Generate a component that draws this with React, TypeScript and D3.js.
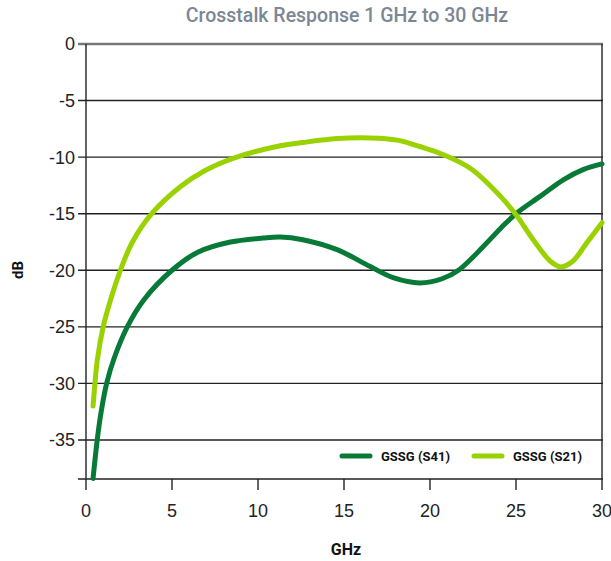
import React from 'react';
import * as d3 from 'd3';

// S21 (light green) and S41 (dark green)
const freqS21 = [0.41, 0.52, 0.66, 1.0, 1.43, 2.0, 2.7, 3.82, 5.5, 6.9, 8.76, 11.3, 12.6, 14.6, 16.5, 18.1, 19.4, 20.8, 22.4, 24.1, 25.0, 26.0, 27.0, 27.6, 28.3, 29.1, 30.0];
const dbS21 = [-32.0, -30.0, -27.9, -25.0, -22.6, -20.0, -17.5, -15.0, -12.6, -11.2, -10.0, -9.0, -8.71, -8.36, -8.3, -8.5, -9.06, -9.8, -11.05, -13.47, -15.1, -17.3, -19.2, -19.7, -19.2, -17.6, -15.8];

const freqS41 = [0.41, 0.66, 0.85, 1.2, 1.63, 2.4, 3.37, 5.0, 6.5, 8.4, 10.3, 11.3, 12.6, 14.6, 16.5, 17.9, 19.4, 20.7, 21.7, 23.1, 24.1, 25.0, 26.4, 27.75, 28.9, 30.0];
const dbS41 = [-38.4, -34.9, -32.8, -30.0, -27.8, -25.0, -22.6, -20.0, -18.4, -17.5, -17.15, -17.06, -17.3, -18.18, -19.65, -20.68, -21.12, -20.75, -19.95, -17.9, -16.3, -15.0, -13.47, -12.0, -11.1, -10.6];

const xTicks = [0, 5, 10, 15, 20, 25, 30];
const yTicks = [0, -5, -10, -15, -20, -25, -30, -35];

const seriesNames = ['GSSG (S41)', 'GSSG (S21)'];
const seriesColors = ['#087a37', '#9ad200'];

const W = 611;
const H = 561;
const left = 86;
const right = 602;
const top = 44;
const bottom = 479;

export default function App() {
  const x = d3.scaleLinear().domain([0, 30]).range([left, right]);
  const y = d3.scaleLinear().domain([0, -38.45]).range([top, bottom]);

  const line = d3
    .line<[number, number]>()
    .x((d) => x(d[0]))
    .y((d) => y(d[1]))
    .curve(d3.curveCatmullRom.alpha(0.5));

  const s41 = freqS41.map((f, i) => [f, dbS41[i]] as [number, number]);
  const s21 = freqS21.map((f, i) => [f, dbS21[i]] as [number, number]);

  const labelFont = '"Liberation Sans", Arial, sans-serif';
  const condFont = 'Roboto, sans-serif';

  return (
    <svg width={W} height={H} style={{ position: 'absolute', left: 0, top: 0 }}>
      <rect width={W} height={H} fill="#fff" />
      <text x={347} y={22} textAnchor="middle" fontFamily={condFont} fontWeight={500} fontSize={19.5} fill="#7b8793">
        Crosstalk Response 1 GHz to 30 GHz
      </text>

      {/* horizontal grid */}
      {yTicks.map((t) => (
        <line
          key={t}
          x1={78}
          x2={right + 1}
          y1={y(t)}
          y2={y(t)}
          stroke={t === 0 ? '#777' : '#222'}
          strokeWidth={t === 0 ? 2.5 : 1.4}
        />
      ))}
      <line x1={78} x2={right + 1} y1={bottom} y2={bottom} stroke="#222" strokeWidth={1.4} />

      {/* axis verticals */}
      <line x1={left} x2={left} y1={top} y2={490} stroke="#222" strokeWidth={1.4} />
      <line x1={right} x2={right} y1={top} y2={490} stroke="#222" strokeWidth={1.4} />
      {xTicks.slice(1, -1).map((t) => (
        <line key={t} x1={x(t)} x2={x(t)} y1={bottom} y2={490} stroke="#222" strokeWidth={1.4} />
      ))}

      {yTicks.map((t) => (
        <text key={t} x={75} y={y(t)} dy="0.36em" textAnchor="end" fontFamily={labelFont} fontSize={18} fill="#222">
          {t}
        </text>
      ))}
      {xTicks.map((t) => (
        <text key={t} x={x(t)} y={517} textAnchor="middle" fontFamily={labelFont} fontSize={18} fill="#222">
          {t}
        </text>
      ))}

      <text x={346} y={555} textAnchor="middle" fontFamily={condFont} fontWeight={700} fontSize={16} fill="#111">
        GHz
      </text>
      <text transform="translate(23,270) rotate(-90)" textAnchor="middle" fontFamily={condFont} fontWeight={700} fontSize={15} fill="#111">
        dB
      </text>

      <path d={line(s41) || ''} fill="none" stroke={seriesColors[0]} strokeWidth={5} strokeLinecap="round" />
      <path d={line(s21) || ''} fill="none" stroke={seriesColors[1]} strokeWidth={5} strokeLinecap="round" />

      {/* legend */}
      {seriesNames.map((name, i) => (
        <g key={name} transform={`translate(${342 + i * 132},456)`}>
          <line x1={0} x2={28} y1={0} y2={0} stroke={seriesColors[i]} strokeWidth={5} strokeLinecap="round" />
          <text x={39} y={0} dy="0.36em" fontFamily={condFont} fontWeight={700} fontSize={13} fill="#111">
            {name}
          </text>
        </g>
      ))}
    </svg>
  );
}
